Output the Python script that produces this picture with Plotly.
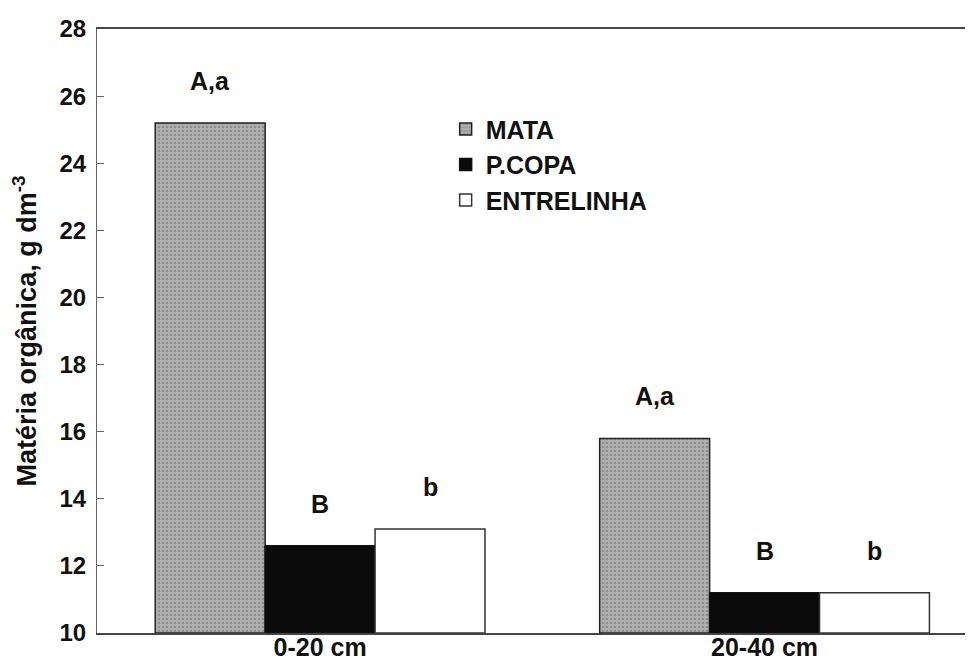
import plotly.graph_objects as go

categories = ["0-20 cm", "20-40 cm"]
series_names = ["MATA", "P.COPA", "ENTRELINHA"]
mata = [25.2, 15.8]
pcopa = [12.6, 11.2]
entrelinha = [13.1, 11.2]
letters = [["A,a", "B", "b"], ["A,a", "B", "b"]]
y_ticks = [10, 12, 14, 16, 18, 20, 22, 24, 26, 28]

FONT = "Liberation Sans"
bargap = 0.258
n_series = 3
bw = (1 - bargap) / n_series

xs = list(range(len(categories)))
values = [mata, pcopa, entrelinha]
fills = ["#a6a6a6", "#0b0b0b", "#ffffff"]
lines = ["#222222", "#111111", "#333333"]

fig = go.Figure()
for j, (name, vals) in enumerate(zip(series_names, values)):
    marker = dict(color=fills[j], line=dict(color=lines[j], width=1.5))
    if j == 0:
        marker["pattern"] = dict(shape=".", fgcolor="#6e6e6e", bgcolor="#b0b0b0", size=4, solidity=0.35)
    fig.add_trace(go.Bar(
        x=xs, y=[v - 10 for v in vals], base=10, name=name, marker=marker,
        hoverinfo="skip",
    ))

annotations = []
for i in range(len(categories)):
    for j in range(n_series):
        annotations.append(dict(
            x=xs[i] + (j - 1) * bw, y=values[j][i], xref="x", yref="y",
            text=letters[i][j], showarrow=False, yshift=42,
            font=dict(family=FONT, size=25, color="#111111", weight="bold"),
        ))

fig.update_layout(
    width=965, height=653,
    margin=dict(l=89, r=0, t=21, b=28),
    paper_bgcolor="white", plot_bgcolor="white",
    barmode="group", bargap=bargap, bargroupgap=0,
    showlegend=True,
    legend=dict(
        x=0.398, y=0.872, xanchor="left", yanchor="top",
        bgcolor="rgba(0,0,0,0)", borderwidth=0,
        font=dict(family=FONT, size=25, color="#111111", weight="bold"),
        tracegroupgap=0,
    ),
    annotations=annotations,
    font=dict(family=FONT, color="#111111"),
)
fig.update_xaxes(
    range=[-0.502, 1.469], tickvals=xs, ticktext=categories,
    showline=True, mirror=True, linecolor="#444444", linewidth=1.5,
    showgrid=False, zeroline=False, ticks="", automargin=False,
    ticklabelstandoff=-9,
    tickfont=dict(family=FONT, size=25, color="#111111", weight="bold"),
)
fig.update_yaxes(
    range=[10, 28], tickvals=y_ticks,
    showline=True, linecolor="#666666", linewidth=1.2,
    showgrid=False, zeroline=False, ticks="inside", ticklen=7, tickcolor="#666666",
    automargin=False, ticklabelstandoff=5,
    tickfont=dict(family=FONT, size=24, color="#111111", weight="bold"),
    title=dict(text="Matéria orgânica, g dm<sup>-3</sup>", standoff=14,
               font=dict(family=FONT, size=27, color="#111111", weight="bold")),
)

fig.write_html("out.html")
